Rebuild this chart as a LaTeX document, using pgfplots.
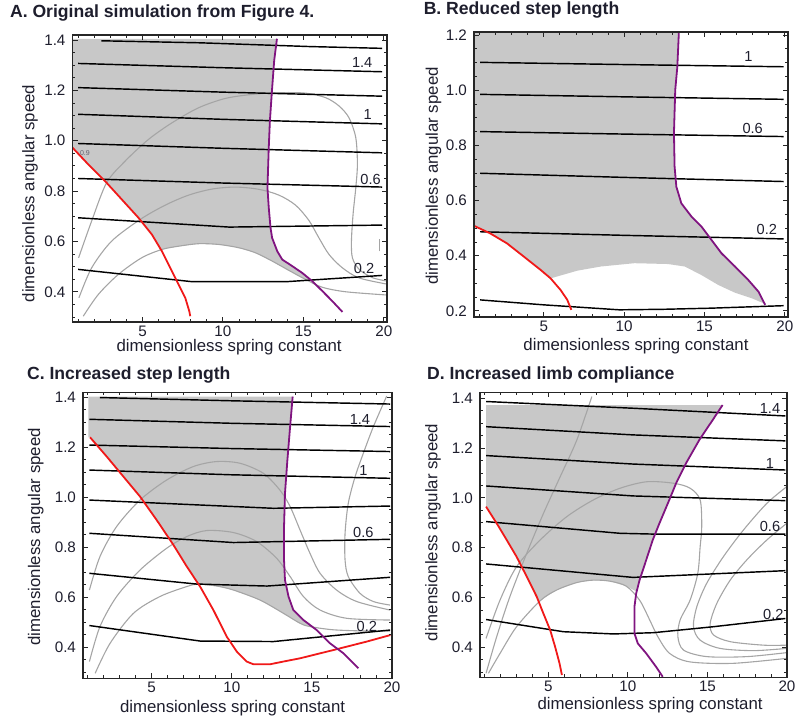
\documentclass[border=0pt]{standalone}
\usepackage{pgfplots}
\pgfplotsset{compat=1.18}
\usepackage{fontspec}
\setmainfont{Liberation Sans}
\definecolor{fillg}{RGB}{200,200,200}
\definecolor{cgray}{RGB}{165,165,165}
\definecolor{cred}{RGB}{240,25,25}
\definecolor{cpurp}{RGB}{128,20,128}
\definecolor{ticktext}{RGB}{30,30,45}
\tikzset{clab/.style={font=\fontsize{7.3}{8}\selectfont, text=ticktext}}
\pgfplotsset{
  panel/.style={
    scale only axis, anchor=south west, axis on top,
    xmin=0.65, xmax=20.2,
    xtick={5,10,15,20}, minor xtick={1,2,...,20},
    tick align=inside,
    major tick length=2.6pt, minor tick length=1.5pt,
    every tick/.style={black!85, line width=0.45pt},
    axis line style={black!85, line width=0.6pt},
    tick label style={font=\fontsize{7.6}{8}\selectfont, text=ticktext},
    xticklabel style={yshift=1.5pt},
    /pgf/number format/assume math mode=true,
    yticklabel style={/pgf/number format/fixed, /pgf/number format/fixed zerofill, /pgf/number format/precision=1},
    xlabel={dimensionless spring constant},
    ylabel={dimensionless angular speed},
    label style={font=\fontsize{8.4}{9}\selectfont, text=ticktext},
    every axis title shift=0pt,
    title style={font=\fontsize{8.8}{10}\selectfont\bfseries, anchor=west, text=ticktext},
  },
  blk/.style={black, line width=0.72pt, no markers},
  gry/.style={cgray, line width=0.55pt, no markers, smooth},
  redc/.style={cred, line width=0.9pt, no markers},
  purc/.style={cpurp, line width=0.9pt, no markers},
  fll/.style={fill=fillg, draw=none, no markers},
}
\begin{document}
\begin{tikzpicture}
\useasboundingbox (0pt,0pt) rectangle (400pt,359.5pt);
% ---------------- A ----------------
\begin{axis}[panel, at={(36.25pt,198.5pt)}, width=157.25pt, height=143.5pt,
  ymin=0.28, ymax=1.42, ytick={0.4,0.6,0.8,1.0,1.2,1.4}, minor ytick={0.3,0.35,...,1.4},
  title={A. Original simulation from Figure 4.},
  title style={at={(axis description cs:-0.221,1.078)}},
  xlabel style={at={(axis description cs:0.498,-0.088)}, anchor=center},
  ylabel style={at={(axis description cs:-0.135,0.448)}, anchor=center}]
\addplot[fll] coordinates {(0.6,1.405) (13.36,1.405) (13.19,1.32) (13.05,1.20) (12.92,1.078) (12.85,0.972) (12.81,0.893) (12.77,0.813) (12.85,0.734) (12.96,0.654) (13.06,0.614) (13.38,0.561) (13.69,0.528) (14.31,0.502) (14.93,0.475) (15.45,0.445) (15.14,0.449) (14.10,0.485) (13.06,0.522) (12.02,0.555) (10.98,0.575) (9.74,0.588) (8.49,0.591) (7.24,0.581) (6.20,0.568) (5.58,0.628) (4.75,0.694) (3.71,0.767) (2.67,0.840) (1.63,0.906) (0.6,0.975)};
\addplot[gry] coordinates {(1.03,0.535) (1.84,0.681) (2.77,0.833) (3.92,0.919) (5.37,1.005) (6.83,1.071) (8.49,1.131) (10.15,1.168) (11.82,1.184) (13.48,1.191) (15.14,1.189) (16.39,1.171) (17.22,1.138) (17.84,1.091) (18.26,1.012) (18.36,0.906) (18.26,0.813) (18.09,0.707) (17.99,0.601) (18.05,0.535) (18.47,0.489) (19.30,0.456) (20.24,0.442)};
\addplot[gry] coordinates {(1.05,0.376) (1.84,0.495) (3.08,0.601) (4.85,0.687) (6.41,0.744) (7.87,0.784) (9.32,0.808) (10.78,0.816) (12.23,0.807) (13.48,0.784) (14.52,0.744) (15.35,0.683) (15.97,0.614) (16.60,0.548) (17.43,0.495) (18.47,0.455) (20.24,0.430)};
\addplot[gry] coordinates {(1.32,0.303) (2.25,0.389) (3.50,0.469) (4.95,0.535) (6.20,0.568) (7.24,0.581) (8.49,0.591) (9.74,0.588) (10.98,0.575) (12.02,0.555) (13.06,0.522) (14.10,0.485) (15.14,0.449) (16.18,0.418) (17.64,0.400) (20.24,0.387)};
\addplot[gry] coordinates {(19.76,0.561) (19.76,0.608)};
\addplot[blk] coordinates {(2.44,1.397) (8.58,1.389) (15.44,1.374) (19.9,1.367)};
\addplot[blk] coordinates {(1.0,1.307) (10,1.29) (19.9,1.274)};
\addplot[blk] coordinates {(1.0,1.211) (10,1.193) (19.9,1.177)};
\addplot[blk] coordinates {(1.0,1.105) (10,1.085) (19.9,1.067)};
\addplot[blk] coordinates {(1.0,0.989) (10,0.97) (19.9,0.952)};
\addplot[blk] coordinates {(1.0,0.850) (10,0.832) (19.9,0.816)};
\addplot[blk] coordinates {(1.0,0.694) (10.4,0.657) (19.9,0.665)};
\addplot[blk] coordinates {(1.0,0.489) (8.1,0.440) (13.9,0.440) (19.9,0.465)};
\addplot[redc] coordinates {(0.6,0.976) (1.63,0.906) (2.67,0.840) (3.71,0.767) (4.75,0.694) (5.58,0.628) (6.20,0.562) (6.83,0.482) (7.24,0.429) (7.66,0.376) (7.91,0.323) (7.97,0.303)};
\addplot[purc] coordinates {(13.36,1.405) (13.19,1.32) (13.05,1.20) (12.92,1.078) (12.85,0.972) (12.81,0.893) (12.77,0.813) (12.85,0.734) (12.96,0.654) (13.06,0.614) (13.38,0.561) (13.69,0.528) (14.31,0.502) (14.93,0.475) (15.56,0.442) (16.18,0.403) (16.80,0.363) (17.43,0.320)};
\node[clab] at (axis cs:18.66,1.31) {1.4};
\node[clab] at (axis cs:19.0,1.105) {1};
\node[clab] at (axis cs:19.18,0.848) {0.6};
\node[clab] at (axis cs:18.77,0.492) {0.2};
\node[font=\fontsize{3.5}{4}\selectfont, text=ticktext!70] at (axis cs:1.42,0.952) {0.9};
\end{axis}
% ---------------- B ----------------
\begin{axis}[panel, at={(237pt,201pt)}, width=157pt, height=142.5pt,
  ymin=0.178, ymax=1.211, ytick={0.2,0.4,0.6,0.8,1.0,1.2}, minor ytick={0.2,0.25,...,1.2},
  title={B. Reduced step length},
  title style={at={(axis description cs:-0.1825,1.077)}},
  xlabel style={at={(axis description cs:0.516,-0.102)}, anchor=center},
  ylabel style={at={(axis description cs:-0.129,0.4947)}, anchor=center}]
\addplot[fll] coordinates {(0.6,1.215) (13.41,1.215) (13.31,1.085) (13.18,1.001) (13.10,0.844) (13.14,0.723) (13.25,0.650) (13.56,0.590) (14.19,0.542) (14.81,0.506) (15.44,0.457) (16.06,0.409) (16.90,0.361) (17.73,0.312) (18.36,0.270) (18.67,0.228) (17.94,0.246) (16.90,0.266) (15.86,0.294) (14.81,0.330) (13.77,0.361) (12.72,0.370) (10.64,0.373) (8.55,0.361) (7.09,0.346) (5.42,0.318) (4.79,0.349) (3.75,0.397) (2.70,0.445) (1.66,0.481) (0.6,0.51)};
\addplot[blk] coordinates {(1.03,1.101) (10,1.093) (19.93,1.085)};
\addplot[blk] coordinates {(1.03,0.985) (10,0.976) (19.93,0.967)};
\addplot[blk] coordinates {(1.03,0.850) (10,0.841) (19.93,0.832)};
\addplot[blk] coordinates {(1.03,0.699) (10,0.684) (19.93,0.669)};
\addplot[blk] coordinates {(1.03,0.487) (10,0.474) (19.93,0.461)};
\addplot[blk] coordinates {(1.03,0.240) (5,0.222) (9.7,0.204) (12.5,0.206) (15.4,0.210) (19.93,0.219)};
\addplot[redc] coordinates {(0.6,0.51) (1.66,0.481) (2.70,0.445) (3.75,0.397) (4.79,0.349) (5.42,0.318) (6.04,0.276) (6.46,0.240) (6.71,0.204)};
\addplot[purc] coordinates {(13.41,1.215) (13.31,1.085) (13.18,1.001) (13.10,0.844) (13.14,0.723) (13.25,0.650) (13.56,0.590) (14.19,0.542) (14.81,0.506) (15.44,0.457) (16.06,0.409) (16.90,0.361) (17.73,0.312) (18.36,0.270) (18.78,0.222)};
\node[clab] at (axis cs:17.73,1.124) {1};
\node[clab] at (axis cs:18.0,0.862) {0.6};
\node[clab] at (axis cs:18.88,0.496) {0.2};
\end{axis}
% ---------------- C ----------------
\begin{axis}[panel, at={(41.5pt,20.35pt)}, width=154.5pt, height=143pt,
  xmin=0.71, xmax=20.0,
  ymin=0.276, ymax=1.42, ytick={0.4,0.6,0.8,1.0,1.2,1.4}, minor ytick={0.3,0.35,...,1.4},
  title={C. Increased step length},
  title style={at={(axis description cs:-0.2039,1.0605)}},
  xlabel style={at={(axis description cs:0.484,-0.1056)}, anchor=center},
  ylabel style={at={(axis description cs:-0.1528,0.495)}, anchor=center}]
\addplot[fll] coordinates {(1.05,1.403) (13.80,1.403) (13.64,1.283) (13.47,1.149) (13.32,1.016) (13.26,0.883) (13.26,0.749) (13.32,0.669) (13.54,0.603) (13.84,0.549) (14.47,0.509) (14.98,0.487) (14.88,0.483) (14.26,0.496) (13.22,0.536) (11.76,0.589) (10.10,0.629) (9.06,0.645) (7.92,0.653) (7.19,0.723) (6.36,0.809) (5.31,0.909) (4.27,1.003) (3.23,1.083) (2.19,1.163) (1.15,1.240) (1.05,1.24)};
\addplot[gry] coordinates {(1.11,0.629) (1.77,0.763) (2.81,0.883) (4.27,0.989) (5.93,1.069) (7.60,1.123) (9.06,1.143) (10.52,1.136) (11.97,1.096) (13.0,1.029) (13.64,0.963) (14.26,0.869) (14.88,0.776) (15.51,0.696) (16.54,0.629) (17.80,0.583) (19.87,0.549)};
\addplot[gry] coordinates {(1.11,0.343) (1.77,0.483) (2.81,0.603) (4.27,0.709) (5.93,0.796) (7.19,0.843) (8.43,0.867) (10.10,0.859) (11.55,0.823) (12.80,0.756) (13.64,0.683) (14.47,0.603) (15.51,0.549) (17.17,0.516) (19.87,0.509)};
\addplot[gry] coordinates {(1.47,0.296) (2.40,0.416) (3.86,0.536) (5.51,0.603) (7.19,0.643) (7.92,0.653) (9.06,0.645) (10.10,0.629) (11.76,0.589) (13.22,0.536) (14.26,0.496) (14.88,0.483) (16.34,0.470) (18.43,0.465) (19.87,0.465)};
\addplot[gry] coordinates {(19.67,1.405) (18.84,1.283) (18.21,1.176) (17.70,1.083) (17.27,0.976) (17.07,0.856) (17.07,0.749) (17.27,0.683) (18.0,0.616) (18.84,0.583) (19.87,0.569)};
\addplot[blk] coordinates {(1.77,1.399) (10,1.386) (19.88,1.373)};
\addplot[blk] coordinates {(1.11,1.312) (10,1.296) (19.88,1.283)};
\addplot[blk] coordinates {(1.11,1.209) (10,1.195) (19.88,1.183)};
\addplot[blk] coordinates {(1.11,1.109) (10,1.090) (19.88,1.076)};
\addplot[blk] coordinates {(1.11,0.989) (12.6,0.956) (19.88,0.965)};
\addplot[blk] coordinates {(1.11,0.856) (10.1,0.819) (19.88,0.832)};
\addplot[blk] coordinates {(1.11,0.696) (7.8,0.653) (12.2,0.645) (19.88,0.680)};
\addplot[blk] coordinates {(1.11,0.487) (8.02,0.425) (12.6,0.423) (19.88,0.469)};
\addplot[redc] coordinates {(1.15,1.240) (2.19,1.163) (3.23,1.083) (4.27,1.003) (5.31,0.909) (6.36,0.809) (7.19,0.723) (8.02,0.643) (8.85,0.549) (9.68,0.443) (10.31,0.383) (10.93,0.343) (11.35,0.332) (12.38,0.332) (13.22,0.343) (14.26,0.356) (16.34,0.389) (18.43,0.423) (19.90,0.449)};
\addplot[purc] coordinates {(13.80,1.403) (13.64,1.283) (13.47,1.149) (13.32,1.016) (13.26,0.883) (13.26,0.749) (13.32,0.669) (13.54,0.603) (13.84,0.549) (14.47,0.509) (15.30,0.469) (16.13,0.416) (16.97,0.376) (17.80,0.323) (17.90,0.316)};
\node[clab] at (axis cs:18.0,1.312) {1.4};
\node[clab] at (axis cs:18.21,1.109) {1};
\node[clab] at (axis cs:18.21,0.86) {0.6};
\node[clab] at (axis cs:18.43,0.483) {0.2};
\end{axis}
% ---------------- D ----------------
\begin{axis}[panel, at={(240pt,20.85pt)}, width=153.5pt, height=142.5pt,
  xmin=0.7, xmax=20.0,
  ymin=0.28, ymax=1.424, ytick={0.4,0.6,0.8,1.0,1.2,1.4}, minor ytick={0.3,0.35,...,1.4},
  title={D. Increased limb compliance},
  title style={at={(axis description cs:-0.1954,1.0607)}},
  xlabel style={at={(axis description cs:0.554,-0.098)}, anchor=center},
  ylabel style={at={(axis description cs:-0.153,0.508)}, anchor=center}]
\addplot[fll] coordinates {(1.08,1.373) (15.95,1.373) (15.33,1.313) (14.49,1.233) (13.65,1.139) (13.03,1.059) (12.6,0.992) (11.98,0.898) (11.56,0.831) (11.15,0.751) (10.73,0.670) (10.55,0.624) (9.89,0.646) (8.85,0.666) (7.81,0.670) (6.77,0.660) (5.51,0.630) (4.4,0.585) (4.27,0.603) (3.64,0.684) (3.0,0.764) (2.38,0.831) (1.75,0.898) (1.08,0.965)};
\addplot[gry] coordinates {(1.08,0.296) (1.75,0.443) (2.58,0.604) (3.64,0.778) (4.69,0.938) (5.74,1.085) (6.79,1.233) (7.73,1.407)};
\addplot[gry] coordinates {(1.08,0.436) (1.96,0.590) (3.0,0.724) (4.48,0.831) (6.16,0.925) (7.83,0.992) (9.51,1.039) (11.19,1.065) (12.86,1.059) (13.91,1.039) (14.54,0.992) (14.64,0.885) (14.54,0.804) (14.39,0.697) (13.91,0.590) (13.28,0.510) (13.14,0.443) (13.50,0.389) (14.96,0.363) (17.47,0.363) (19.98,0.379)};
\addplot[gry] coordinates {(1.23,0.296) (1.96,0.376) (3.0,0.483) (4.48,0.587) (5.51,0.630) (6.77,0.660) (7.81,0.670) (8.85,0.666) (9.89,0.646) (10.73,0.590) (11.37,0.510) (11.88,0.443) (12.62,0.376) (13.88,0.342) (16.59,0.336) (19.98,0.356)};
\addplot[gry] coordinates {(19.98,1.045) (18.73,0.978) (17.26,0.871) (16.0,0.764) (14.95,0.657) (14.33,0.563) (14.12,0.483) (14.54,0.429) (15.79,0.396) (17.89,0.387) (19.98,0.396)};
\addplot[gry] coordinates {(19.98,0.898) (18.73,0.831) (17.47,0.751) (16.43,0.670) (15.59,0.577) (15.17,0.496) (15.38,0.450) (16.43,0.423) (18.52,0.409) (19.98,0.409)};
\addplot[blk] coordinates {(1.08,1.387) (10.32,1.360) (19.9,1.329)};
\addplot[blk] coordinates {(1.08,1.286) (10.32,1.253) (19.9,1.229)};
\addplot[blk] coordinates {(1.08,1.170) (10.32,1.136) (19.9,1.112)};
\addplot[blk] coordinates {(1.08,1.048) (10.32,1.008) (19.9,0.989)};
\addplot[blk] coordinates {(1.08,0.905) (9.5,0.858) (11.5,0.855) (19.9,0.855)};
\addplot[blk] coordinates {(1.08,0.735) (10.32,0.681) (19.9,0.708)};
\addplot[blk] coordinates {(1.08,0.512) (5.94,0.463) (9.09,0.454) (11.6,0.459) (15.37,0.483) (19.9,0.516)};
\addplot[redc] coordinates {(1.08,0.965) (1.75,0.898) (2.38,0.831) (3.0,0.764) (3.64,0.684) (4.27,0.603) (4.68,0.537) (5.11,0.470) (5.42,0.403) (5.70,0.336) (5.85,0.289)};
\addplot[purc] coordinates {(15.95,1.373) (15.33,1.313) (14.49,1.233) (13.65,1.139) (13.03,1.059) (12.6,0.992) (11.98,0.898) (11.56,0.831) (11.15,0.751) (10.73,0.670) (10.52,0.617) (10.41,0.563) (10.41,0.456) (10.62,0.416) (11.15,0.376) (11.77,0.322) (12.19,0.282)};
\node[clab] at (axis cs:18.93,1.36) {1.4};
\node[clab] at (axis cs:18.93,1.139) {1};
\node[clab] at (axis cs:18.93,0.885) {0.6};
\node[clab] at (axis cs:19.14,0.534) {0.2};
\end{axis}
\end{tikzpicture}
\end{document}
